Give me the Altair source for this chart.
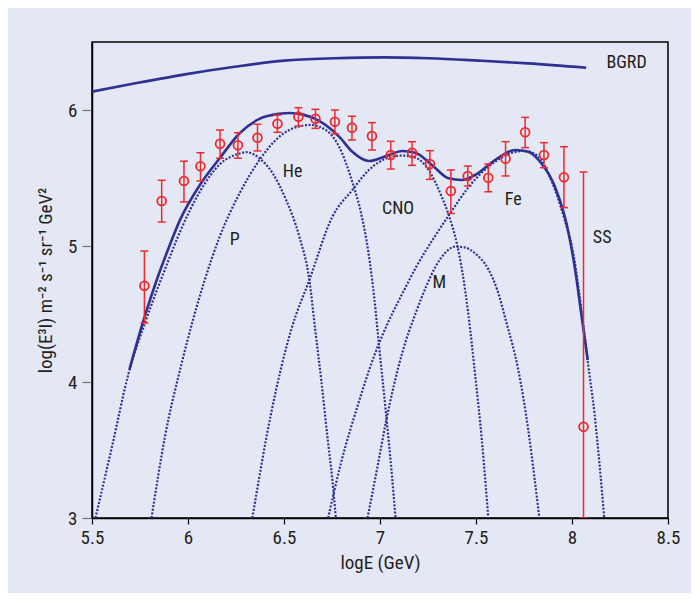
import altair as alt
import pandas as pd

# ---------------- data ----------------
pt_x = [5.773, 5.863, 5.979, 6.065, 6.167, 6.260, 6.362, 6.466, 6.575, 6.664, 6.765, 6.854,
        6.958, 7.056, 7.167, 7.260, 7.369, 7.457, 7.564, 7.654, 7.756, 7.854, 7.958, 8.060]
pt_y = [4.708, 5.331, 5.478, 5.586, 5.752, 5.740, 5.796, 5.899, 5.951, 5.936, 5.914, 5.870,
        5.809, 5.669, 5.686, 5.603, 5.404, 5.515, 5.502, 5.642, 5.836, 5.669, 5.505, 3.671]
pt_lo = [4.434, 5.176, 5.324, 5.478, 5.645, 5.645, 5.699, 5.836, 5.882, 5.865, 5.824, 5.779,
         5.706, 5.566, 5.593, 5.490, 5.240, 5.441, 5.399, 5.515, 5.723, 5.576, 5.282, 3.000]
pt_hi = [4.963, 5.483, 5.623, 5.686, 5.853, 5.833, 5.895, 5.963, 6.017, 6.005, 6.000, 5.954,
         5.907, 5.770, 5.767, 5.701, 5.559, 5.588, 5.603, 5.767, 5.946, 5.760, 5.730, 5.544]

bgrd_x = [5.5, 5.725, 5.984, 6.243, 6.502, 6.761, 7.02, 7.253, 7.512, 7.771, 8.074]
bgrd_y = [6.135, 6.196, 6.262, 6.318, 6.363, 6.380, 6.387, 6.380, 6.363, 6.343, 6.311]

total_x = [5.695, 5.777, 5.837, 5.895, 5.958, 6.062, 6.165, 6.269, 6.372, 6.476, 6.530, 6.600,
           6.683, 6.787, 6.856, 6.942, 7.046, 7.115, 7.184, 7.270, 7.357, 7.426, 7.495, 7.599,
           7.703, 7.772, 7.840, 7.910, 7.979, 8.017, 8.048, 8.082]
total_y = [4.093, 4.493, 4.750, 4.970, 5.190, 5.449, 5.645, 5.829, 5.935, 5.972, 5.978, 5.966,
           5.920, 5.804, 5.693, 5.625, 5.669, 5.699, 5.686, 5.596, 5.498, 5.485, 5.522, 5.632,
           5.706, 5.693, 5.608, 5.440, 5.118, 4.820, 4.505, 4.162]

p_x = [5.518, 5.604, 5.690, 5.780, 5.900, 5.960, 6.062, 6.165, 6.269, 6.303, 6.372, 6.441,
       6.511, 6.580, 6.632, 6.663, 6.694, 6.728, 6.752, 6.770]
p_y = [3.000, 3.524, 4.060, 4.450, 4.900, 5.110, 5.400, 5.600, 5.680, 5.690, 5.645, 5.534,
       5.338, 5.068, 4.750, 4.380, 4.015, 3.574, 3.279, 3.000]

he_x = [5.810, 5.880, 5.967, 6.085, 6.165, 6.269, 6.372, 6.476, 6.580, 6.640, 6.718, 6.787,
        6.856, 6.900, 6.940, 6.970, 6.994, 7.029, 7.063, 7.081]
he_y = [3.000, 3.598, 4.137, 4.740, 5.068, 5.388, 5.632, 5.804, 5.880, 5.890, 5.853, 5.730,
        5.470, 5.250, 4.950, 4.620, 4.280, 3.800, 3.300, 3.000]

cno_x = [6.335, 6.433, 6.537, 6.632, 6.752, 6.856, 6.942, 7.046, 7.115, 7.184, 7.253, 7.322,
         7.360, 7.400, 7.430, 7.460, 7.495, 7.530, 7.564]
cno_y = [3.000, 3.770, 4.382, 4.750, 5.215, 5.412, 5.559, 5.650, 5.665, 5.650, 5.559, 5.360,
         5.220, 5.020, 4.800, 4.500, 4.060, 3.580, 3.000]

m_x = [6.935, 6.990, 7.030, 7.115, 7.184, 7.240, 7.290, 7.340, 7.390, 7.440, 7.495, 7.564,
       7.610, 7.660, 7.720, 7.772, 7.806, 7.830]
m_y = [3.000, 3.400, 3.700, 4.210, 4.500, 4.700, 4.850, 4.950, 4.995, 4.990, 4.946, 4.830,
       4.680, 4.430, 4.090, 3.650, 3.280, 3.000]

fe_x = [6.730, 6.796, 6.882, 6.968, 7.046, 7.120, 7.190, 7.290, 7.370, 7.460, 7.530, 7.600,
        7.700, 7.750, 7.820, 7.890, 7.960, 8.010, 8.050, 8.085, 8.117, 8.143, 8.168]
fe_y = [3.000, 3.400, 3.818, 4.186, 4.450, 4.660, 4.850, 5.080, 5.250, 5.430, 5.540, 5.620,
        5.690, 5.700, 5.665, 5.490, 5.200, 4.920, 4.520, 4.120, 3.770, 3.400, 3.000]

lab_text = ["BGRD", "He", "P", "CNO", "Fe", "M", "SS"]
lab_x = [8.284, 6.545, 6.243, 7.094, 7.694, 7.309, 8.157]
lab_y = [6.343, 5.546, 5.044, 5.270, 5.338, 4.726, 5.057]

# ---------------- tables ----------------
pts = pd.DataFrame({"x": pt_x, "y": pt_y, "lo": pt_lo, "hi": pt_hi})

solid = pd.concat([
    pd.DataFrame({"x": bgrd_x, "y": bgrd_y, "s": "BGRD"}),
    pd.DataFrame({"x": total_x, "y": total_y, "s": "total"}),
])
dotted = pd.concat([
    pd.DataFrame({"x": p_x, "y": p_y, "s": "P"}),
    pd.DataFrame({"x": he_x, "y": he_y, "s": "He"}),
    pd.DataFrame({"x": cno_x, "y": cno_y, "s": "CNO"}),
    pd.DataFrame({"x": m_x, "y": m_y, "s": "M"}),
    pd.DataFrame({"x": fe_x, "y": fe_y, "s": "Fe"}),
])
labels = pd.DataFrame({"t": lab_text, "x": lab_x, "y": lab_y})

FONT = "Liberation Sans Narrow, Roboto Condensed, Liberation Sans, sans-serif"
BLUE = "#2E3192"
RED = "#EE2A2F"
BG = "#E4E8F4"

xs = alt.Scale(domain=[5.5, 8.5], nice=False, zero=False)
ys = alt.Scale(domain=[3, 6.5], nice=False, zero=False)

X = alt.X("x:Q", scale=xs, title="logE (GeV)",
          axis=alt.Axis(values=[5.5, 6, 6.5, 7, 7.5, 8, 8.5], format="~g",
                        tickSize=6, tickColor="black", tickWidth=1.2, labelFlush=False,
                        labelPadding=4, titlePadding=6))
Y = alt.Y("y:Q", scale=ys, title="log(E³I) m⁻² s⁻¹ sr⁻¹ GeV²",
          axis=alt.Axis(values=[3, 4, 5, 6], format="~g", tickSize=10, labelFlush=False,
                        tickColor="#777777", tickWidth=1.2, labelPadding=5,
                        titlePadding=12))

dot_lines = alt.Chart(dotted).mark_line(
    color=BLUE, strokeWidth=2.2, strokeDash=[2, 1.6], interpolate="monotone", clip=True
).encode(x=X, y=Y, detail="s:N")

solid_lines = alt.Chart(solid).mark_line(
    color=BLUE, strokeWidth=2.6, interpolate="monotone", clip=True
).encode(x=X, y=Y, detail="s:N")

bars = alt.Chart(pts).mark_rule(color=RED, strokeWidth=1.5, clip=True).encode(
    x=X, y=alt.Y("lo:Q", scale=ys), y2="hi:Q")
cap_lo = alt.Chart(pts).mark_tick(color=RED, orient="horizontal", size=8, thickness=1.5,
                                  opacity=1, clip=True).encode(x=X, y=alt.Y("lo:Q", scale=ys))
cap_hi = alt.Chart(pts).mark_tick(color=RED, orient="horizontal", size=8, thickness=1.5,
                                  opacity=1, clip=True).encode(x=X, y=alt.Y("hi:Q", scale=ys))
circles = alt.Chart(pts).mark_point(shape="circle", filled=False, color=RED, size=78,
                                    strokeWidth=1.8, opacity=1).encode(x=X, y=Y)

texts = alt.Chart(labels).mark_text(font=FONT, fontSize=18, color="#231F20",
                                    align="center", baseline="middle").encode(
    x=X, y=Y, text="t:N")

chart = alt.layer(dot_lines, solid_lines, bars, cap_lo, cap_hi, circles, texts).properties(
    width=576, height=476,
    padding={"left": 84, "top": 34, "right": 23, "bottom": 75},
    autosize=alt.AutoSizeParams(type="none"),
    background=BG,
).configure_view(
    stroke="black", strokeWidth=1.5
).configure_axis(
    grid=False, domainColor="black", domainWidth=1.5,
    labelFont=FONT, titleFont=FONT, labelFontSize=19, titleFontSize=19,
    labelColor="#231F20", titleColor="#231F20", titleFontWeight="normal",
)

chart.save("out.html", embed_options={"renderer": "svg", "actions": False})
